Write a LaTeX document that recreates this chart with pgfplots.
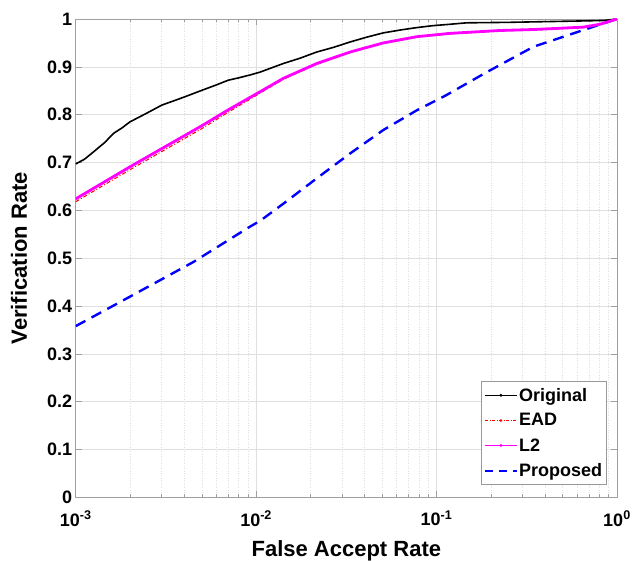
\documentclass[border=0pt]{standalone}
\usepackage{fontspec}
\setmainfont{Liberation Sans}
\usepackage{pgfplots}
\pgfplotsset{compat=1.18}
\definecolor{mmag}{RGB}{255,0,255}
\definecolor{mred}{RGB}{255,0,0}
\definecolor{mblue}{RGB}{0,0,255}
\begin{document}
\begin{tikzpicture}
\begin{axis}[
  at={(0,0)}, anchor=south west, scale only axis,
  width=541.3pt, height=478.4pt,
  xmode=log, xmin=1e-3, xmax=1, ymin=0, ymax=1,
  xtick={1e-3,1e-2,1e-1,1},
  xticklabels={10\textsuperscript{-3},10\textsuperscript{-2},10\textsuperscript{-1},10\textsuperscript{0}},
  ytick={0,0.1,0.2,0.3,0.4,0.5,0.6,0.7,0.8,0.9,1},
  yticklabels={0,0.1,0.2,0.3,0.4,0.5,0.6,0.7,0.8,0.9,1},
  tick label style={font=\fontsize{18}{20}\selectfont\bfseries},
  xticklabel style={yshift=-10pt},
  xlabel={False Accept Rate}, ylabel={Verification Rate},
  label style={font=\fontsize{22}{24}\selectfont\bfseries},
  xlabel style={at={(axis description cs:0.5,-0.0835)}, anchor=north},
  ylabel style={at={(axis description cs:-0.0831,0.5)}, anchor=south},
  grid=both,
  major grid style={gray!25, line width=0.6pt},
  minor grid style={gray!25, dotted, line width=0.6pt},
  axis line style={gray!75, line width=0.8pt},
  tick style={gray!75, line width=0.6pt},
  major tick length=6pt, minor tick length=3pt,
  legend cell align=left,
  legend style={at={(axis description cs:0.9815,0.026)}, anchor=south east,
    font=\fontsize{18}{20}\selectfont\bfseries, draw=gray!80, line width=0.8pt,
    inner xsep=3pt, inner ysep=5pt, row sep=8pt, nodes={inner sep=1.5pt}},
  legend image code/.code={\draw[mark repeat=2,mark phase=2,#1] plot coordinates {(0cm,0cm) (0.55cm,0cm) (1.1cm,0cm)};},
]
% Proposed
\addplot[mblue, line width=2.4pt, dash pattern=on 11pt off 7pt, forget plot] coordinates {
(1e-3,0.358) (1.919e-3,0.416) (4.487e-3,0.492) (9.25e-3,0.566) (1.052e-2,0.578)
(1.416e-2,0.614) (2.168e-2,0.667) (3.32e-2,0.719) (5.07e-2,0.768) (7.76e-2,0.809)
(0.1122,0.840) (0.1858,0.887) (0.3443,0.942) (0.6516,0.977) (1,1.0)};
% Original
\addplot[black, line width=1.6pt, forget plot] coordinates {
(1e-3,0.697) (1.12e-3,0.707) (1.253e-3,0.722) (1.45e-3,0.742) (1.622e-3,0.761) (1.8e-3,0.772) (2e-3,0.785)
(2.5e-3,0.804) (3e-3,0.820) (3.5e-3,0.829) (4e-3,0.837) (5.01e-3,0.851) (6e-3,0.862) (7.0e-3,0.872)
(8e-3,0.877) (9.25e-3,0.883) (1.052e-2,0.889) (1.2e-2,0.897) (1.416e-2,0.907) (1.75e-2,0.918) (2.168e-2,0.931)
(2.7e-2,0.941) (3.32e-2,0.952) (4.1e-2,0.962) (5.07e-2,0.971) (6.3e-2,0.977) (7.76e-2,0.982) (0.095,0.986)
(0.1189,0.989) (0.1466,0.992) (0.25,0.993) (0.3443,0.994) (0.6516,0.996) (0.85,0.997) (1,1.0)};
% EAD
\addplot[mred, line width=1pt, dash pattern=on 4pt off 2pt on 1pt off 2pt, forget plot] coordinates {
(1e-3,0.618) (2e-3,0.685) (3e-3,0.723) (5.01e-3,0.771) (7.0e-3,0.805) (1.052e-2,0.845)
(1.416e-2,0.874) (2.168e-2,0.905) (3.32e-2,0.930) (5.07e-2,0.949) (7.76e-2,0.962)
(0.1189,0.969) (0.2254,0.975) (0.3443,0.977) (0.6516,0.982) (0.805,0.988) (1,1.0)};
% L2
\addplot[mmag, line width=2.8pt, forget plot] coordinates {
(1e-3,0.624) (2e-3,0.691) (3e-3,0.729) (5.01e-3,0.777) (7.0e-3,0.810) (1.052e-2,0.848)
(1.416e-2,0.876) (2.168e-2,0.907) (3.32e-2,0.931) (5.07e-2,0.950) (7.76e-2,0.963)
(0.1189,0.970) (0.2254,0.976) (0.3443,0.978) (0.6516,0.983) (0.805,0.989) (1,1.0)};
\addlegendimage{black, line width=0.8pt, mark=*, mark size=1pt}
\addlegendentry{Original}
\addlegendimage{mred, line width=0.6pt, dash pattern=on 3pt off 1.5pt on 1pt off 1.5pt, mark=*, mark size=1pt, mark options={solid}}
\addlegendentry{EAD}
\addlegendimage{mmag, line width=0.8pt, mark=*, mark size=1pt}
\addlegendentry{L2}
\addlegendimage{mblue, line width=2pt, dash pattern=on 8pt off 6pt}
\addlegendentry{Proposed}
\end{axis}
\pgfresetboundingbox
\path[use as bounding box] (-75.7pt,-62.6pt) rectangle (559.3pt,497.4pt);
\end{tikzpicture}
\end{document}
